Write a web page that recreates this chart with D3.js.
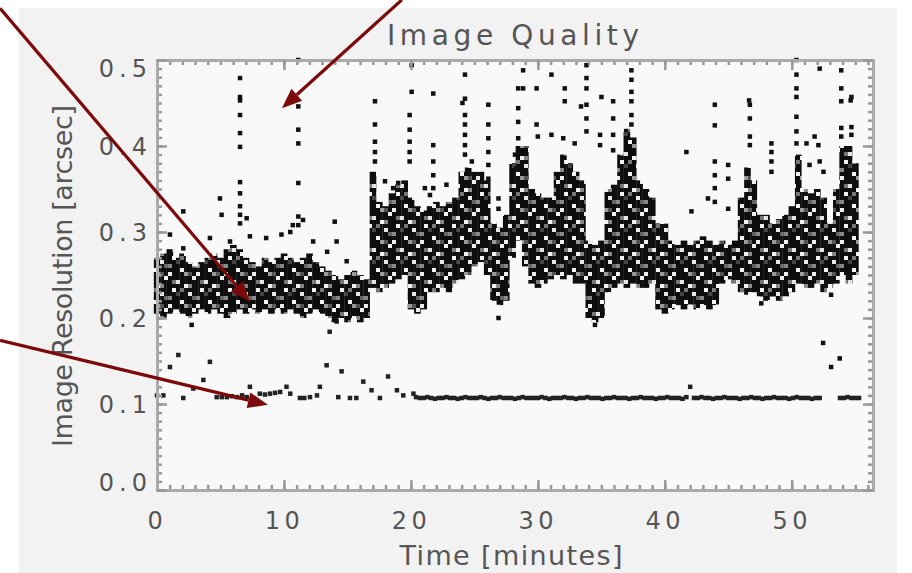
<!DOCTYPE html>
<html><head><meta charset="utf-8">
<script src="https://cdn.jsdelivr.net/npm/d3@7/dist/d3.min.js"></script>
<style>html,body{margin:0;padding:0;background:#fff}svg{display:block}</style>
</head><body><svg id="c" width="912" height="573"></svg>
<script>
// ---------------- data ----------------
const chartTitle = "Image Quality";
const xTitle = "Time [minutes]";
const yTitle = "Image Resolution [arcsec]";
const xTickValues = [0, 10, 20, 30, 40, 50];
const xTickLabels = ["0", "10", "20", "30", "40", "50"];
const yTickValues = [0, 0.1, 0.2, 0.3, 0.4, 0.5];
const yTickLabels = ["0.0", "0.1", "0.2", "0.3", "0.4", "0.5"];

// dense cloud: per half-minute column, lower and upper edge of the dense core
const coreTime = [0,0.5,1,1.5,2,2.5,3,3.5,4,4.5,5,5.5,6,6.5,7,7.5,8,8.5,9,9.5,10,10.5,11,11.5,12,12.5,13,13.5,14,14.5,15,15.5,16,16.5,
  17,17.5,18,18.5,19,19.5,20,20.5,21,21.5,22,22.5,23,23.5,24,24.5,25,25.5,26,26.5,27,27.5,28,28.5,29,29.5,30,30.5,31,31.5,32,32.5,33,33.5,
  34,34.5,35,35.5,36,36.5,37,37.5,38,38.5,39,39.5,40,40.5,41,41.5,42,42.5,43,43.5,44,44.5,45,45.5,46,46.5,47,47.5,48,48.5,49,49.5,50,50.5,
  51,51.5,52,52.5,53,53.5,54,54.5,55];
const coreLow = [.205,.200,.205,.210,.205,.200,.205,.210,.205,.210,.205,.200,.205,.210,.205,.210,.205,.210,.205,.210,.205,.210,.205,.200,.205,.210,.205,.200,.195,.200,.195,.200,.195,.200,
  .235,.230,.235,.240,.245,.250,.210,.205,.210,.230,.230,.235,.230,.240,.245,.250,.260,.265,.250,.220,.215,.220,.270,.290,.260,.240,.235,.240,.245,.250,.245,.250,.240,.240,
  .200,.195,.200,.230,.235,.240,.235,.240,.235,.235,.240,.210,.205,.210,.215,.210,.215,.210,.215,.210,.215,.240,.245,.240,.230,.227,.230,.225,.220,.225,.220,.225,.230,.240,
  .235,.235,.240,.230,.235,.240,.250,.240,.250];
const coreHigh = [.270,.275,.280,.270,.275,.265,.260,.265,.270,.275,.270,.280,.285,.280,.270,.265,.260,.270,.265,.270,.275,.270,.265,.270,.275,.265,.260,.255,.250,.245,.250,.255,.250,.245,
  .370,.335,.330,.345,.355,.360,.340,.330,.325,.330,.335,.330,.335,.340,.370,.375,.370,.370,.360,.310,.305,.320,.380,.400,.400,.350,.345,.340,.340,.370,.390,.380,.370,.360,
  .290,.285,.290,.350,.355,.390,.420,.410,.360,.350,.340,.310,.310,.290,.285,.290,.285,.290,.295,.290,.285,.290,.285,.290,.340,.375,.360,.320,.320,.310,.315,.320,.330,.390,
  .350,.345,.350,.340,.310,.350,.400,.400,.380];

// scattered single frames above / below the dense cloud
const sparseTime = [
  6.54,6.54,6.54,6.54,6.54,6.54,6.54,6.54,6.54,6.54,6.54,
  11.13,11.13,11.13,11.13,11.13,11.13,11.13,
  4.96,2.07,5.09,10.7,11.5,1.02,4.17,7.32,9.8,14.0,2.73,14.15,7.06,10.5,2.07,5.75,8.6,12.3,13.4,14.15,14.94,
  20.06,20.06,17.17,17.17,17.17,17.17,17.17,19.9,19.9,19.9,19.9,19.9,
  21.76,21.76,21.76,21.76,21.76,21.5,17.96,18.6,19.0,21.1,22.8,23.5,
  24.26,24.26,24.26,24.26,24.26,24.26,24.26,24.8,24.06,
  26.1,26.1,26.1,26.1,26.1,26.1,26.9,26.9,
  28.45,28.45,28.45,28.45,28.2,28.3,
  28.84,28.84,31.07,31.07,33.83,33.83,33.83,33.83,33.83,33.83,
  37.37,37.37,37.37,37.37,37.37,37.37,32.12,32.12,29.9,29.9,35.01,
  35.93,35.93,35.93,35.93,34.9,34.9,32.9,32.0,41.7,42.1,43.4,33.4,30.0,
  43.94,43.94,43.94,43.94,43.94,43.94,44.99,44.99,44.99,
  46.7,46.7,46.7,46.7,46.64,48.4,48.4,48.4,48.4,
  50.37,50.37,50.37,50.37,50.37,50.37,50.37,51.16,51.8,52.1,52.2,
  53.9,53.9,53.9,53.9,53.9,54.7,54.7,54.7,54.64,52.2,52.5,51.4,
  47.6,53.1,26.9,34.5,52.47,53.78,53.1];
const sparseValue = [
  .479,.457,.453,.436,.415,.399,.358,.345,.330,.320,.310,
  .500,.446,.419,.403,.357,.318,.308,
  .339,.324,.320,.308,.314,.297,.293,.295,.297,.312,.192,.196,.316,.300,.281,.289,.293,.289,.277,.289,.266,
  .494,.463,.452,.425,.405,.393,.382,.436,.419,.405,.393,.382,
  .461,.401,.382,.366,.351,.343,.359,.351,.357,.351,.355,.335,
  .483,.455,.436,.425,.413,.401,.390,.382,.450,
  .448,.425,.409,.393,.378,.362,.339,.327,
  .467,.444,.428,.409,.390,.374,
  .488,.467,.483,.413,.494,.479,.467,.448,.432,.417,
  .488,.477,.463,.452,.436,.425,.467,.452,.467,.425,.457,
  .452,.432,.413,.395,.413,.401,.403,.409,.393,.324,.339,.446,.411,
  .448,.424,.382,.366,.351,.335,.378,.362,.327,
  .448,.432,.411,.401,.453,.403,.393,.382,.370,
  .500,.483,.467,.457,.434,.417,.403,.403,.411,.401,.490,
  .488,.467,.452,.421,.411,.457,.422,.413,.453,.382,.370,.378,
  .217,.227,.200,.192,.171,.153,.143];

// lower sequence near 0.11 arcsec
const floorTime = [0.0,0.5,1.02,1.68,2.07,2.86,3.65,4.17,4.7,5.1,5.5,5.9,6.3,6.7,7.06,7.32,8.1,8.5,8.9,9.3,9.7,10.2,10.5,11.26,11.6,12.05,12.6,12.83,13.36,13.6,14.28,14.54,15.2,15.7,16.25,16.9,17.56,18.2,18.9,19.4,20.2,
  20.4,20.7,21.0,21.3,21.6,21.9,22.2,22.5,22.8,23.1,23.4,23.7,24.0,24.3,24.6,24.9,25.2,25.5,25.8,26.1,26.4,26.7,27.0,27.3,27.6,27.9,28.2,28.5,28.8,29.1,29.4,29.7,
  30.0,30.3,30.6,30.9,31.2,31.5,31.8,32.1,32.4,32.7,33.0,33.3,33.6,33.9,34.2,34.5,34.8,35.1,35.4,35.7,36.0,36.3,36.6,36.9,37.2,37.5,37.8,38.1,38.4,38.7,39.0,39.3,39.6,39.9,
  40.2,40.5,40.8,41.1,41.4,41.7,42.0,42.3,42.6,42.9,43.2,43.5,43.8,44.1,44.4,44.7,45.0,45.3,45.6,45.9,46.2,46.5,46.8,47.1,47.4,47.7,48.0,48.3,48.6,48.9,49.2,49.5,49.8,
  50.1,50.4,50.7,51.0,51.3,51.6,51.9,52.2,53.8,54.1,54.4,54.7,55.0,55.3];
const floorValue = [.110,.110,.143,.157,.107,.118,.128,.149,.108,.108,.108,.109,.108,.110,.108,.120,.112,.111,.112,.113,.114,.120,.112,.107,.107,.108,.110,.120,.145,.184,.108,.138,.107,.107,.126,.116,.107,.132,.116,.110,.112,
  .108,.107,.107,.108,.107,.106,.107,.107,.108,.107,.107,.106,.107,.108,.107,.107,.107,.108,.107,.106,.107,.107,.108,.107,.107,.107,.106,.107,.108,.107,.107,.107,
  .107,.108,.107,.106,.107,.107,.107,.108,.107,.107,.106,.107,.107,.108,.107,.107,.107,.106,.107,.107,.108,.107,.107,.107,.106,.107,.107,.108,.107,.107,.107,.106,.107,.107,
  .108,.107,.107,.107,.106,.108,.120,.107,.107,.108,.107,.107,.106,.107,.107,.108,.107,.107,.107,.106,.107,.107,.108,.107,.107,.106,.107,.107,.108,.107,.107,.107,.106,
  .107,.108,.107,.107,.107,.106,.107,.107,.107,.107,.108,.107,.107,.107];

// annotation arrows, in data units
const arrowStartT = [-12.36, 19.29, -12.36];
const arrowStartV = [0.560, 0.570, 0.174];
const arrowEndT = [7.32, 9.84, 8.74];
const arrowEndV = [0.219, 0.444, 0.099];

// ---------------- drawing ----------------
const svg = d3.select("#c");
const x = d3.scaleLinear().domain([0, 56.4]).range([157, 873]);
const y = d3.scaleLinear().domain([0, 0.5]).range([490, 60]);
const FONT = "'DejaVu Sans', Verdana, sans-serif";
const TXT = "#555";

// irregular speckle texture for the dense cloud (style only)
const defs = svg.append("defs");
const pat = defs.append("pattern").attr("id", "speckle").attr("patternUnits", "userSpaceOnUse")
  .attr("width", 28).attr("height", 32);
pat.append("rect").attr("width", 28).attr("height", 32).attr("fill", "#0e0e0e");
[[1,0,"#f2f2f2"],[5,1,"#e8e8e8"],[3,3,"#f4f4f4"],[0,4,"#eeeeee"],[6,5,"#f0f0f0"],[2,6,"#e4e4e4"],[4,7,"#f3f3f3"],
 [3,0,"#777"],[0,2,"#888"],[6,2,"#666"],[4,4,"#999"],[1,6,"#777"],[5,7,"#888"],[2,1,"#444"],[5,4,"#555"]]
  .forEach(([cx, cy, c]) => pat.append("rect").attr("x", cx * 4).attr("y", cy * 4).attr("width", 4).attr("height", 4).attr("fill", c));

svg.append("rect").attr("x", 19).attr("y", 8).attr("width", 878).attr("height", 565).attr("fill", "#f2f2f2");
svg.append("rect").attr("x", x(0)).attr("y", y(0.5)).attr("width", x(56.4) - x(0)).attr("height", y(0) - y(0.5)).attr("fill", "#f9f9f9");

const plot = svg.append("g");
const colW = x(0.5) - x(0);
plot.selectAll("rect.core").data(coreTime).join("rect").attr("class", "core")
  .attr("x", (d) => x(d - 0.25)).attr("width", colW + 0.3)
  .attr("y", (d, i) => y(coreHigh[i])).attr("height", (d, i) => y(coreLow[i]) - y(coreHigh[i]))
  .attr("fill", "url(#speckle)");

const P = 4.5;
plot.selectAll("rect.sp").data(sparseTime).join("rect").attr("class", "sp")
  .attr("x", (d) => x(d) - P / 2).attr("y", (d, i) => y(sparseValue[i]) - P / 2)
  .attr("width", P).attr("height", P).attr("fill", "#111");
plot.selectAll("rect.fl").data(floorTime).join("rect").attr("class", "fl")
  .attr("x", (d) => x(d) - P / 2).attr("y", (d, i) => y(floorValue[i]) - P / 2)
  .attr("width", P).attr("height", P).attr("fill", "#222");

// axes: ticks inward on all four sides
function styleAxis(g) {
  g.select(".domain").attr("stroke", "#aaa").attr("stroke-width", 3);
  g.selectAll(".tick line").attr("stroke", "#999").attr("stroke-width", 2.5);
}
const xMinor = d3.range(0, 57, 1);
const yMinor = d3.range(0, 0.501, 0.01);
svg.append("g").attr("transform", "translate(0,490)").call(d3.axisBottom(x).tickValues(xMinor).tickSize(-5).tickFormat("")).call(styleAxis);
svg.append("g").attr("transform", "translate(0,60)").call(d3.axisTop(x).tickValues(xMinor).tickSize(-5).tickFormat("")).call(styleAxis);
svg.append("g").attr("transform", "translate(157,0)").call(d3.axisLeft(y).tickValues(yMinor).tickSize(-5).tickFormat("")).call(styleAxis);
svg.append("g").attr("transform", "translate(873,0)").call(d3.axisRight(y).tickValues(yMinor).tickSize(-5).tickFormat("")).call(styleAxis);

const gx = svg.append("g").attr("transform", "translate(0,490)")
  .call(d3.axisBottom(x).tickValues(xTickValues).tickSize(-10).tickPadding(22).tickFormat((d, i) => xTickLabels[i]))
  .call(styleAxis);
gx.selectAll("text").attr("font-family", FONT).attr("font-size", 24).attr("fill", TXT).attr("letter-spacing", 4.5);
svg.append("g").attr("transform", "translate(0,60)").call(d3.axisTop(x).tickValues(xTickValues).tickSize(-10).tickFormat("")).call(styleAxis);

const gy = svg.append("g").attr("transform", "translate(157,0)")
  .call(d3.axisLeft(y).tickValues(yTickValues).tickSize(-10).tickPadding(5).tickFormat((d, i) => yTickLabels[i]))
  .call(styleAxis);
gy.selectAll("text").attr("font-family", FONT).attr("font-size", 24).attr("fill", TXT).attr("letter-spacing", 5)
  .attr("dy", (d) => d === 0.5 ? "0.7em" : d === 0 ? "0em" : "0.35em");
svg.append("g").attr("transform", "translate(873,0)").call(d3.axisRight(y).tickValues(yTickValues).tickSize(-10).tickFormat("")).call(styleAxis);

// titles
svg.append("text").attr("x", 513).attr("y", 45).attr("text-anchor", "middle")
  .attr("font-family", FONT).attr("font-size", 28).attr("fill", TXT)
  .attr("textLength", 252).attr("lengthAdjust", "spacing").text(chartTitle);
svg.append("text").attr("x", 511).attr("y", 565).attr("text-anchor", "middle")
  .attr("font-family", FONT).attr("font-size", 27).attr("fill", TXT)
  .attr("textLength", 223).attr("lengthAdjust", "spacing").text(xTitle);
svg.append("text").attr("transform", "translate(72,276) rotate(-90)").attr("text-anchor", "middle")
  .attr("font-family", FONT).attr("font-size", 27).attr("fill", TXT)
  .attr("textLength", 342).attr("lengthAdjust", "spacing").text(yTitle);

// annotation arrows
const arrowColor = "#7d0a0a";
const ag = svg.append("g");
arrowStartT.forEach((t0, i) => {
  const x0 = x(t0), y0 = y(arrowStartV[i]), x1 = x(arrowEndT[i]), y1 = y(arrowEndV[i]);
  const a = Math.atan2(y1 - y0, x1 - x0), L = 20, Wd = 8;
  const bx = x1 - L * Math.cos(a), by = y1 - L * Math.sin(a);
  ag.append("line").attr("x1", x0).attr("y1", y0).attr("x2", bx).attr("y2", by)
    .attr("stroke", arrowColor).attr("stroke-width", 3.2);
  ag.append("path").attr("d", `M${x1},${y1}L${bx + Wd * Math.sin(a)},${by - Wd * Math.cos(a)}L${bx - Wd * Math.sin(a)},${by + Wd * Math.cos(a)}Z`)
    .attr("fill", arrowColor);
});
</script></body></html>
